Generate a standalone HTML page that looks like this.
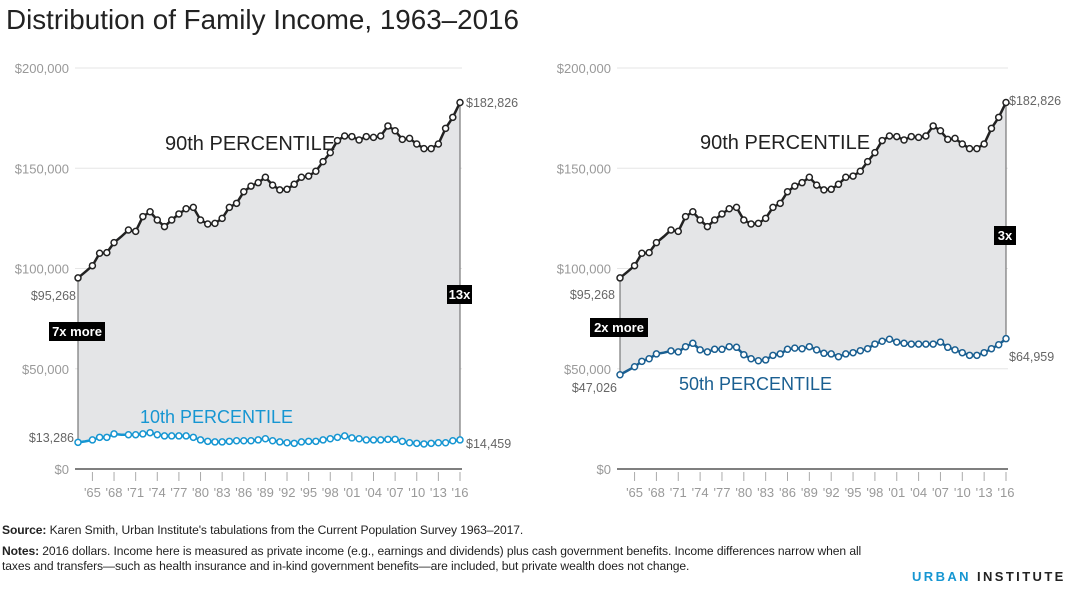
<!DOCTYPE html>
<html><head><meta charset="utf-8"><style>
body{margin:0;width:1080px;height:589px;background:#fff;overflow:hidden;font-family:"Liberation Sans",sans-serif}
#title{position:absolute;left:6px;top:4px;font-size:27.8px;color:#222;white-space:nowrap}
.foot{position:absolute;left:2px;font-size:12.1px;color:#222;white-space:nowrap;letter-spacing:-0.1px}
#logo{position:absolute;left:912px;top:569px;font-size:13px;letter-spacing:2.4px;font-weight:bold;color:#222}
</style></head><body>
<div id="title">Distribution of Family Income, 1963–2016</div>
<svg id="chart" width="1080" height="520" style="position:absolute;left:0;top:0"></svg>
<div class="foot" style="top:523px"><b>Source:</b> Karen Smith, Urban Institute's tabulations from the Current Population Survey 1963–2017.</div>
<div class="foot" style="top:544px"><b>Notes:</b> 2016 dollars. Income here is measured as private income (e.g., earnings and dividends) plus cash government benefits. Income differences narrow when all</div>
<div class="foot" style="top:559px">taxes and transfers—such as health insurance and in-kind government benefits—are included, but private wealth does not change.</div>
<div id="logo"><span style="color:#1696d2">URBAN</span> INSTITUTE</div>
<script>
const years=[];for(let y=1963;y<=2016;y++)years.push(y);
const p90=[95.3,98.3,101.4,107.6,107.9,112.9,115.9,119.2,118.5,125.9,128.3,124.2,120.9,124.2,127.2,129.8,130.5,124.2,122.2,122.5,125.0,130.5,132.5,138.3,141.1,142.8,145.5,141.6,139.2,139.5,142.0,145.5,146.1,148.5,153.3,157.8,163.8,166.1,165.8,164.1,165.8,165.4,166.1,171.1,168.7,164.4,164.9,162.1,159.8,159.8,162.1,169.9,175.4,182.8];
const p10=[13.3,13.8,14.5,15.8,15.8,17.5,17.1,17.1,17.1,17.5,18.1,17.1,16.5,16.5,16.5,16.5,15.8,14.5,13.8,13.5,13.5,13.8,14.1,14.1,14.1,14.5,15.1,14.1,13.5,13.1,12.8,13.5,13.8,13.8,14.5,15.1,15.8,16.5,15.5,15.1,14.5,14.5,14.5,14.8,14.8,13.8,13.1,12.8,12.5,12.8,13.1,13.1,14.1,14.5];
const p50=[47.0,49.0,51.0,53.7,55.0,57.4,58.0,58.9,58.4,61.0,62.7,59.4,58.4,59.7,59.7,61.0,60.7,57.0,55.0,54.0,54.4,56.7,57.4,59.7,60.3,60.0,61.0,59.4,57.7,57.4,56.0,57.4,58.0,59.0,60.0,62.3,63.7,64.7,63.3,62.7,62.3,62.3,62.3,62.3,63.3,60.7,59.4,58.0,56.7,56.7,58.0,60.0,62.0,65.0];
const yTicks=[0,50,100,150,200];
const yTickLabels=["$0","$50,000","$100,000","$150,000","$200,000"];
const xTickYears=[1965,1968,1971,1974,1977,1980,1983,1986,1989,1992,1995,1998,2001,2004,2007,2010,2013,2016];
const NS="http://www.w3.org/2000/svg";
const svg=document.getElementById('chart');
function mk(tag,attrs,parent){const e=document.createElementNS(NS,tag);for(const k in attrs)e.setAttribute(k,attrs[k]);(parent||svg).appendChild(e);return e;}
function txt(s,attrs){const e=mk('text',attrs);e.textContent=s;return e;}
const yScale=v=>469-v/200*401;
function panel(P){
  const xs=y=>P.x0+(y-1963)*(P.x1-P.x0)/53;
  yTicks.forEach((t,i)=>{
    const g=mk('line',{x1:P.gx,x2:P.x1+2,y1:yScale(t),y2:yScale(t),stroke:t===0?'#555':'#e6e6e6','stroke-width':t===0?1.5:1});
    
    
    const l=txt(yTickLabels[i],{x:P.gx-6,y:yScale(t)+5,'text-anchor':'end','font-size':13,fill:'#999'});
    
    
  });
  xTickYears.forEach(y=>{
    const t=mk('line',{x1:xs(y),x2:xs(y),y1:472,y2:481,stroke:'#aaa'});
    
    
    const l=txt("'"+String(y).slice(2),{x:xs(y),y:497,'text-anchor':'middle','font-size':13,fill:'#999'});
    
    
  });
  let top=years.map((y,i)=>xs(y)+','+yScale(p90[i]));
  let bot=years.map((y,i)=>xs(y)+','+yScale(P.low[i])).reverse();
  const a=mk('polygon',{points:top.concat(bot).join(' '),fill:'#e4e5e7'});
  
  
  [[0],[53]].forEach(([i])=>{
    const v=mk('line',{x1:xs(years[i]),x2:xs(years[i]),y1:yScale(p90[i]),y2:yScale(P.low[i]),stroke:'#777','stroke-width':1.2});
    
    
  });
  [[p90,'#222','p90'],[P.low,P.col,P.name]].forEach(([d,c,n])=>{
    const l=mk('polyline',{points:years.map((y,i)=>xs(y)+','+yScale(d[i])).join(' '),fill:'none',stroke:c,'stroke-width':2.5});
    
    
    years.forEach((y,i)=>{
      if(y===1964||y===1969)return;
      const p=mk('circle',{cx:xs(y),cy:yScale(d[i]),r:3,fill:'#fff',stroke:c,'stroke-width':1.5});
      
      
    });
  });
}
panel({x0:78,x1:460,gx:75,low:p10,col:'#1696d2',name:'p10'});
panel({x0:620,x1:1006,gx:617,low:p50,col:'#1a5f91',name:'p50'});
function label(s,x,y,opt){const e=txt(s,Object.assign({x:x,y:y,'font-size':12.5,fill:'#666'},opt||{}));return e;}
let e;
e=label('$95,268',76,300,{'text-anchor':'end'});
e=label('$13,286',74,442,{'text-anchor':'end'});
e=label('$182,826',466,107);
e=label('$14,459',466,448);
e=label('$95,268',615,299,{'text-anchor':'end'});
e=label('$47,026',617,392,{'text-anchor':'end'});
e=label('$182,826',1009,105);
e=label('$64,959',1009,361);
e=txt('90th PERCENTILE',{x:165,y:150,'font-size':20,fill:'#222'});
e=txt('90th PERCENTILE',{x:700,y:149,'font-size':20,fill:'#222'});
e=txt('10th PERCENTILE',{x:140,y:423,'font-size':18,fill:'#1696d2'});
e=txt('50th PERCENTILE',{x:679,y:390,'font-size':18,fill:'#1a5f91'});
function badge(s,x,y,w,name){const r=mk('rect',{x:x,y:y,width:w,height:19,fill:'#000'});const t=txt(s,{x:x+w/2,y:y+14,'text-anchor':'middle','font-size':13,'font-weight':'bold',fill:'#fff'});}
badge('7x more',49,322,56,'ratio-badge-start-left');
badge('13x',447,285,25,'ratio-badge-end-left');
badge('2x more',590,318,58,'ratio-badge-start-right');
badge('3x',994,226,22,'ratio-badge-end-right');
</script>
</body></html>
